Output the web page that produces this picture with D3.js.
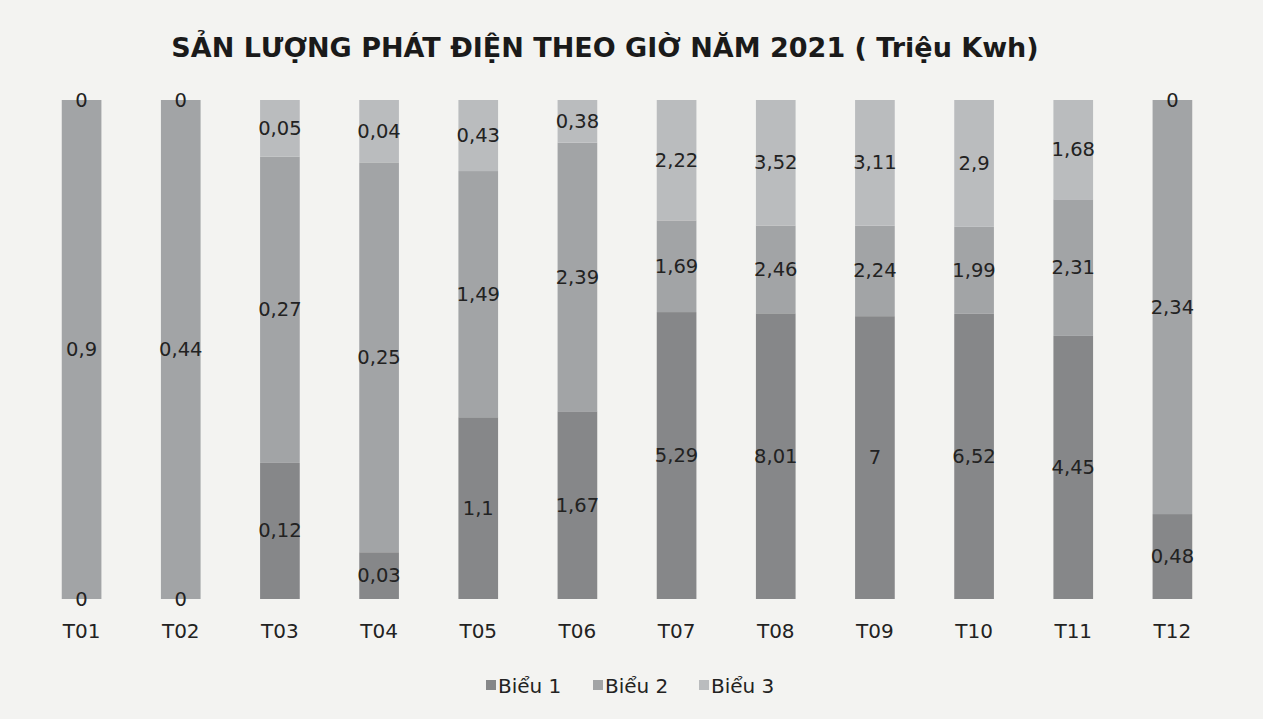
<!DOCTYPE html>
<html>
<head>
<meta charset="utf-8">
<script src="https://cdn.jsdelivr.net/npm/d3@7"></script>
<style>
  html, body { margin: 0; padding: 0; background: #f3f3f1; }
  svg { display: block; }
</style>
</head>
<body>
<svg id="chart" width="1263" height="719"></svg>
<script>
const categories = ["T01","T02","T03","T04","T05","T06","T07","T08","T09","T10","T11","T12"];
const seriesNames = ["Biểu 1", "Biểu 2", "Biểu 3"];
const bieu1 = [0, 0, 0.12, 0.03, 1.1, 1.67, 5.29, 8.01, 7, 6.52, 4.45, 0.48];
const bieu2 = [0.9, 0.44, 0.27, 0.25, 1.49, 2.39, 1.69, 2.46, 2.24, 1.99, 2.31, 2.34];
const bieu3 = [0, 0, 0.05, 0.04, 0.43, 0.38, 2.22, 3.52, 3.11, 2.9, 1.68, 0];
const colors = ["#868789", "#a2a4a6", "#babcbe"];
const title = "SẢN LƯỢNG PHÁT ĐIỆN THEO GIỜ NĂM 2021 ( Triệu Kwh)";

const svg = d3.select("#chart");
const font = "'DejaVu Sans', Verdana, sans-serif";

const rows = categories.map((c, i) => ({ cat: c, "Biểu 1": bieu1[i], "Biểu 2": bieu2[i], "Biểu 3": bieu3[i] }));
const stack = d3.stack().keys(seriesNames).offset(d3.stackOffsetExpand);
const stacked = stack(rows);

const x = d3.scaleBand().domain(categories).range([32, 1222]).paddingInner(0.6).paddingOuter(0.3);
const y = d3.scaleLinear().domain([0, 1]).range([599, 100]);

svg.append("text")
  .attr("x", 605).attr("y", 57)
  .attr("text-anchor", "middle")
  .attr("font-family", font).attr("font-weight", "bold").attr("font-size", 27)
  .attr("fill", "#1a1a1a")
  .text(title);

const layers = svg.append("g").selectAll("g").data(stacked).join("g")
  .attr("fill", (d, i) => colors[i]);

layers.selectAll("rect").data(d => d).join("rect")
  .attr("x", d => x(d.data.cat))
  .attr("width", x.bandwidth())
  .attr("y", d => y(d[1]))
  .attr("height", d => y(d[0]) - y(d[1]));

const fmt = v => String(v).replace(".", ",");
stacked.forEach((layer, li) => {
  svg.append("g").selectAll("text").data(layer).join("text")
    .attr("x", d => x(d.data.cat) + x.bandwidth() / 2)
    .attr("y", d => (y(d[0]) + y(d[1])) / 2)
    .attr("text-anchor", "middle")
    .attr("dominant-baseline", "central")
    .attr("font-family", font).attr("font-size", 19.5)
    .attr("fill", "#222")
    .text(d => fmt(d.data[layer.key]));
});

const xAxis = d3.axisBottom(x).tickSize(0).tickPadding(0);
const ax = svg.append("g").attr("transform", "translate(0,624)").call(xAxis);
ax.select(".domain").remove();
ax.selectAll("text")
  .attr("font-family", font).attr("font-size", 20).attr("fill", "#222")
  .attr("dy", "0.71em");

const legendX = [486, 593, 699];
const legend = svg.append("g").selectAll("g").data(seriesNames).join("g")
  .attr("transform", (d, i) => `translate(${legendX[i]},686)`);
legend.append("rect").attr("x", 0).attr("y", -6).attr("width", 10).attr("height", 10)
  .attr("fill", (d, i) => colors[i]);
legend.append("text").attr("x", 12).attr("y", 0)
  .attr("dominant-baseline", "central")
  .attr("font-family", font).attr("font-size", 20).attr("fill", "#222")
  .text(d => d);
</script>
</body>
</html>
